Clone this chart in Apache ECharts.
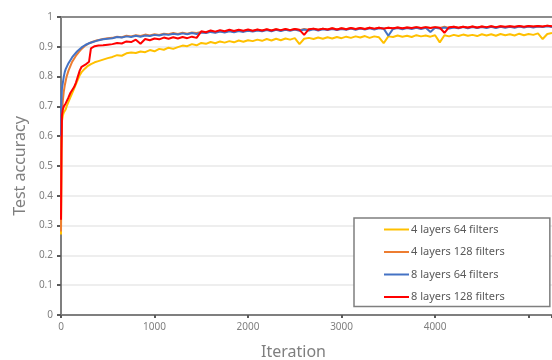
<!DOCTYPE html>
<html>
<head>
<meta charset="utf-8">
<script src="https://cdn.jsdelivr.net/npm/echarts@6/dist/echarts.min.js"></script>
<style>html,body{margin:0;padding:0;background:#fff;}#c{width:552px;height:360px;}</style>
</head>
<body>
<div id="c"></div>
<script>
const iterations = [0,5,10,20,30,40,50,60,80,100,120,140,160,180,200,220,240,260,280,300,320,340,360,380,400,450,500,
550,600,650,700,750,800,850,900,950,1000,
1050,1100,1150,1200,1250,1300,1350,1400,1450,1500,
1550,1600,1650,1700,1750,1800,1850,1900,1950,2000,
2050,2100,2150,2200,2250,2300,2350,2400,2450,2500,
2550,2600,2650,2700,2750,2800,2850,2900,2950,3000,
3050,3100,3150,3200,3250,3300,3350,3400,3450,3500,
3550,3600,3650,3700,3750,3800,3850,3900,3950,4000,
4050,4100,4150,4200,4250,4300,4350,4400,4450,4500,
4550,4600,4650,4700,4750,4800,4850,4900,4950,5000,
5050,5100,5150,5200,5250];

const seriesNames = ['4 layers 64 filters','4 layers 128 filters','8 layers 64 filters','8 layers 128 filters'];

const acc4x64 = [.27,.55,.65,.67,.68,.685,.69,.70,.715,.73,.745,.76,.775,.79,.805,.815,.822,.828,.834,.839,.842,.845,.848,.85,.852,.857,.862,
.866,.872,.870,.878,.881,.879,.884,.882,.889,.885,
.893,.890,.897,.893,.899,.904,.902,.909,.905,.913,
.910,.916,.912,.918,.914,.919,.915,.921,.917,.922,
.919,.924,.920,.926,.921,.927,.922,.928,.924,.929,
.909,.927,.930,.926,.931,.927,.932,.928,.933,.929,
.934,.930,.935,.931,.936,.930,.935,.932,.912,.935,
.933,.938,.934,.937,.933,.939,.935,.938,.934,.939,
.915,.939,.935,.940,.936,.941,.937,.940,.936,.942,
.938,.942,.937,.943,.939,.942,.938,.944,.939,.943,
.940,.945,.926,.943,.946];

const acc4x128 = [.28,.58,.68,.72,.75,.77,.785,.80,.82,.835,.85,.86,.87,.878,.886,.893,.899,.904,.909,.912,.915,.917,.92,.921,.923,.926,.929,
.930,.934,.932,.937,.935,.939,.936,.941,.938,.942,
.940,.944,.942,.946,.943,.947,.944,.948,.946,.950,
.948,.952,.949,.953,.950,.954,.951,.955,.952,.956,
.953,.957,.954,.958,.955,.959,.955,.959,.956,.960,
.956,.960,.957,.961,.957,.961,.958,.962,.958,.962,
.959,.963,.959,.963,.960,.964,.960,.964,.961,.964,
.961,.965,.961,.965,.962,.966,.962,.966,.963,.966,
.963,.967,.963,.967,.964,.967,.964,.968,.964,.968,
.965,.969,.965,.969,.966,.969,.966,.970,.966,.970,
.967,.970,.967,.971,.968];

const acc8x64 = [.60,.72,.76,.78,.80,.815,.825,.83,.845,.855,.865,.873,.88,.887,.893,.898,.902,.906,.909,.912,.914,.916,.918,.92,.921,.925,.927,
.929,.933,.931,.935,.933,.937,.934,.938,.936,.940,
.938,.942,.940,.944,.941,.945,.942,.946,.943,.948,
.946,.950,.947,.951,.948,.952,.949,.953,.950,.954,
.951,.955,.952,.956,.952,.957,.953,.957,.954,.958,
.954,.958,.955,.959,.955,.959,.956,.960,.956,.960,
.957,.961,.957,.961,.958,.962,.958,.962,.961,.937,
.960,.963,.959,.963,.960,.964,.960,.964,.950,.964,
.961,.965,.961,.965,.962,.966,.962,.966,.963,.966,
.963,.967,.963,.967,.964,.967,.964,.968,.965,.968,
.965,.968,.966,.969,.966];

const acc8x128 = [.32,.55,.67,.69,.70,.705,.71,.715,.73,.745,.755,.765,.78,.80,.82,.833,.838,.84,.842,.85,.895,.90,.902,.901,.904,.905,.907,
.909,.913,.911,.918,.916,.924,.910,.926,.922,.928,
.925,.931,.927,.932,.928,.933,.929,.934,.930,.952,
.949,.955,.951,.956,.952,.957,.953,.957,.954,.958,
.954,.958,.955,.959,.955,.959,.956,.960,.956,.960,
.957,.940,.959,.961,.957,.961,.958,.962,.958,.962,
.959,.963,.960,.963,.960,.964,.961,.964,.961,.964,
.962,.965,.962,.965,.963,.966,.963,.966,.963,.966,
.964,.947,.966,.967,.964,.967,.965,.968,.965,.968,
.966,.969,.966,.969,.967,.969,.967,.970,.967,.970,
.968,.970,.968,.971,.969];

const colors = ['#FFC000','#ED7D31','#4472C4','#FF0000'];
const allValues = [acc4x64, acc4x128, acc8x64, acc8x128];

const chart = echarts.init(document.getElementById('c'), null, {renderer:'canvas'});
const font = 'Noto Sans';
chart.setOption({
  animation: false,
  backgroundColor: '#fff',
  textStyle: {fontFamily: font},
  grid: {left: 61, right: 0, top: 17, bottom: 45, containLabel: false, outerBoundsMode: 'none'},
  legend: {
    orient: 'vertical',
    left: 354, top: 218,
    padding: [6, 45, 4, 30],
    itemWidth: 25, itemHeight: 14, itemGap: 11.5,
    backgroundColor: '#fff',
    borderColor: '#7f7f7f', borderWidth: 1.5,
    icon: 'path://M0,6 L25,6 L25,8 L0,8 Z',
    textStyle: {fontSize: 11, color: '#595959', fontFamily: font, padding: [0,0,0,-3]},
    data: seriesNames
  },
  xAxis: [{
    type: 'value', min: 0, max: 5250, interval: 1000,
    name: 'Iteration', nameLocation: 'middle', nameGap: 29,
    nameTextStyle: {fontSize: 16, color: '#7f7f7f', padding: [0, 26, 0, 0]},
    axisLine: {lineStyle: {color: '#7f7f7f', width: 2}},
    axisTick: {show: true, length: 3, lineStyle: {color: '#595959', width: 2}},
    axisLabel: {fontSize: 10, color: '#7f7f7f', margin: 7, formatter: v => v >= 5000 ? '' : String(v)},
    splitLine: {show: false}
  },{
    type: 'value', position: 'top', min: 0, max: 5250,
    axisLine: {show: true, onZero: false, lineStyle: {color: '#8c8c8c', width: 2}},
    axisTick: {show: false}, axisLabel: {show: false}, splitLine: {show: false}
  }],
  yAxis: {
    type: 'value', min: 0, max: 1, interval: 0.1,
    name: 'Test accuracy', nameLocation: 'middle', nameGap: 32,
    nameTextStyle: {fontSize: 16, color: '#7f7f7f'},
    axisLine: {show: true, lineStyle: {color: '#7f7f7f', width: 2}},
    axisTick: {show: true, length: 4, lineStyle: {color: '#595959', width: 2}},
    axisLabel: {fontSize: 10, color: '#7f7f7f', margin: 8},
    splitLine: {show: true, lineStyle: {color: '#e8e8e8', width: 1.5}}
  },
  series: seriesNames.map((n, k) => ({
    name: n, type: 'line', xAxisIndex: 0,
    data: iterations.map((x, i) => [x, allValues[k][i]]),
    showSymbol: false, symbol: 'none',
    lineStyle: {color: colors[k], width: 2},
    itemStyle: {color: colors[k]},
    z: 2 + k
  }))
});
</script>
</body>
</html>
